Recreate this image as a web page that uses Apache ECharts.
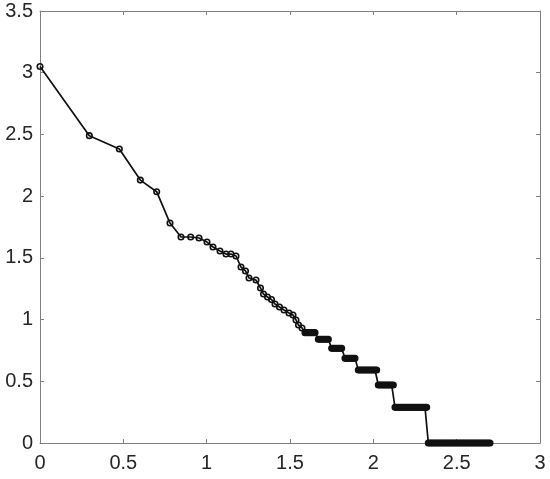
<!DOCTYPE html>
<html>
<head>
<meta charset="utf-8">
<script src="https://cdn.jsdelivr.net/npm/echarts@6/dist/echarts.min.js"></script>
<style>
  html, body { margin: 0; padding: 0; background: #fff; }
  #main { width: 550px; height: 479px; }
</style>
</head>
<body>
<div id="main"></div>
<script>
// sloped part of the curve
var slopeX = [0, 0.296, 0.476, 0.602, 0.70, 0.78, 0.846, 0.904, 0.954, 1.002,
  1.038, 1.08, 1.116, 1.146, 1.176, 1.206, 1.233, 1.254, 1.296, 1.323,
  1.341, 1.365, 1.389, 1.41, 1.437, 1.464, 1.494, 1.518, 1.536, 1.551, 1.572];
var slopeY = [3.05, 2.49, 2.382, 2.13, 2.036, 1.782, 1.669, 1.669, 1.661, 1.628,
  1.588, 1.556, 1.531, 1.531, 1.515, 1.426, 1.394, 1.337, 1.32, 1.256,
  1.207, 1.183, 1.163, 1.126, 1.102, 1.078, 1.053, 1.037, 0.997, 0.956, 0.932];

// flat steps: level and the x positions of the points sitting on it
var stepLevels = [0.894, 0.84, 0.767, 0.686, 0.591, 0.47, 0.289, 0];
var stepX = [
  [1.59, 1.60, 1.61, 1.62, 1.63, 1.64, 1.65],
  [1.67, 1.68, 1.69, 1.70, 1.71, 1.72, 1.73],
  [1.75, 1.76, 1.77, 1.78, 1.79, 1.80, 1.81],
  [1.83, 1.84, 1.85, 1.86, 1.87, 1.88, 1.89],
  [1.91, 1.92, 1.93, 1.94, 1.95, 1.96, 1.97, 1.98, 1.99, 2.00, 2.01, 2.02],
  [2.03, 2.04, 2.05, 2.06, 2.07, 2.08, 2.09, 2.10, 2.11, 2.12],
  [2.13, 2.14, 2.15, 2.16, 2.17, 2.18, 2.19, 2.20, 2.21, 2.22,
   2.23, 2.24, 2.25, 2.26, 2.27, 2.28, 2.29, 2.30, 2.31, 2.32],
  [2.33, 2.34, 2.35, 2.36, 2.37, 2.38, 2.39, 2.40, 2.41, 2.42,
   2.43, 2.44, 2.45, 2.46, 2.47, 2.48, 2.49, 2.50, 2.51, 2.52,
   2.53, 2.54, 2.55, 2.56, 2.57, 2.58, 2.59, 2.60, 2.61, 2.62,
   2.63, 2.64, 2.65, 2.66, 2.67, 2.68, 2.69, 2.70]
];

var ink = '#111';
var points = [];
slopeX.forEach(function (x, i) { points.push([x, slopeY[i]]); });
stepX.forEach(function (xs, k) {
  xs.forEach(function (x) {
    // markers pile up on the steps, so they read as solid bars
    points.push({ value: [x, stepLevels[k]], itemStyle: { color: ink } });
  });
});

var axisGray = '#808080';
var labelColor = '#262626';
var fontFam = '"Liberation Sans", Arial, sans-serif';

function boxAxis(extra) {
  var a = {
    type: 'value',
    min: 0,
    interval: 0.5,
    axisLine: { show: true, onZero: false, lineStyle: { color: axisGray, width: 1 } },
    axisTick: { show: true, inside: true, length: 4, lineStyle: { color: axisGray } },
    splitLine: { show: false },
    axisLabel: { show: false }
  };
  for (var k in extra) a[k] = extra[k];
  return a;
}

var chart = echarts.init(document.getElementById('main'));
chart.setOption({
  backgroundColor: '#fff',
  animation: false,
  grid: { left: 40, top: 11, right: 10, bottom: 36, containLabel: false },
  xAxis: [
    boxAxis({ max: 3, position: 'bottom',
      axisLabel: { show: true, color: labelColor, fontSize: 20, fontFamily: fontFam, margin: 10 } }),
    boxAxis({ max: 3, position: 'top' })
  ],
  yAxis: [
    boxAxis({ max: 3.5, position: 'left',
      axisLabel: { show: true, color: labelColor, fontSize: 20, fontFamily: fontFam, margin: 7 } }),
    boxAxis({ max: 3.5, position: 'right' })
  ],
  series: [{
    type: 'line',
    data: points,
    showSymbol: true,
    showAllSymbol: true,
    symbol: 'circle',
    symbolSize: 5.5,
    lineStyle: { color: ink, width: 1.7 },
    itemStyle: { color: 'rgba(0,0,0,0)', borderColor: ink, borderWidth: 1.6 },
    emphasis: { disabled: true }
  }]
});
</script>
</body>
</html>
